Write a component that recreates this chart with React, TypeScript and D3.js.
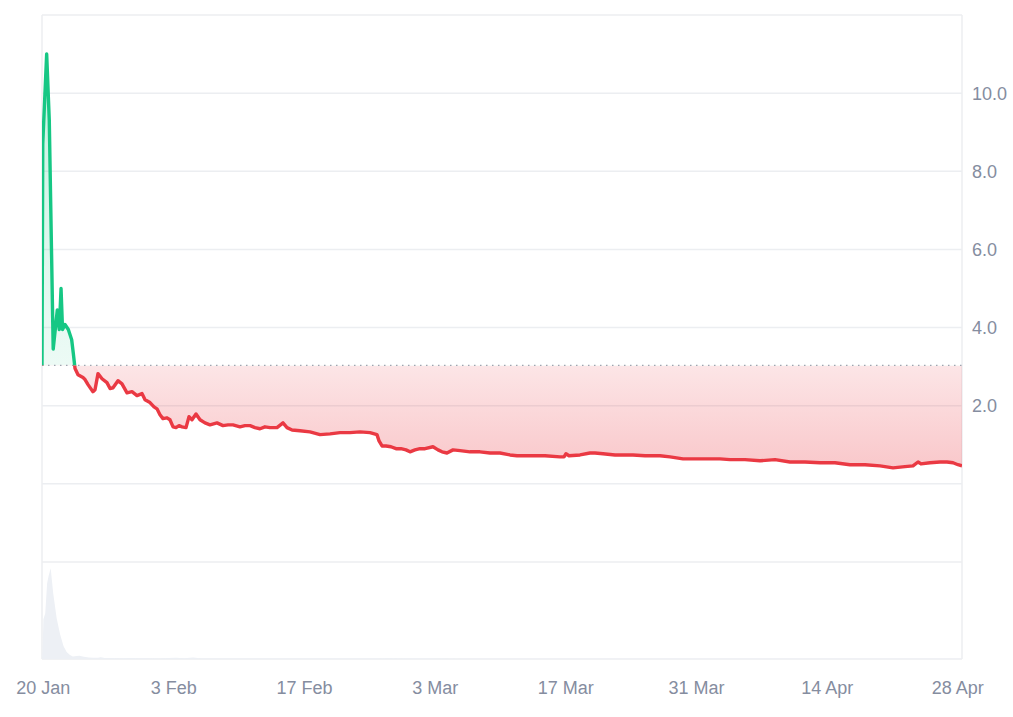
import React from "react";
import * as d3 from "d3";

// time of the first point; day offsets below are counted from here
const originUtc = Date.UTC(2025, 0, 19, 21, 0);
const DAY = 86400000;

const priceDay = [
  0, 0.08, 0.5, 0.78, 1.2, 1.64, 1.85, 2.04, 2.2, 2.46,
  2.82, 3.18, 3.35, 3.54, 3.86, 4.39, 4.61, 4.93, 5.46, 5.68,
  6.0, 6.43, 6.96, 7.29, 7.61, 8.14, 8.57, 9.11, 9.64, 10.18,
  10.71, 11.04, 11.57, 12.0, 12.32, 12.64, 12.96, 13.39, 13.71, 14.04,
  14.36, 14.68, 15.0, 15.43, 15.75, 16.07, 16.5, 16.93, 17.46, 18.0,
  18.75, 19.39, 19.93, 20.46, 21.21, 21.75, 22.29, 22.82, 23.36, 23.89,
  24.43, 25.18, 25.82, 26.25, 26.79, 27.64, 28.71, 29.79, 30.86, 31.93,
  33.0, 34.07, 35.14, 35.89, 36.11, 36.43, 36.86, 37.39, 37.93, 38.46,
  39.0, 39.43, 39.96, 40.5, 41.04, 41.89, 42.43, 42.86, 43.39, 44.04,
  44.79, 45.86, 46.93, 48.0, 49.07, 50.14, 50.89, 52.29, 53.89, 55.5,
  55.93, 56.14, 56.46, 57.64, 58.71, 59.25, 60.11, 61.39, 63.32, 64.61,
  66.21, 67.29, 68.68, 70.5, 72.64, 73.71, 75.32, 76.93, 78.54, 80.14,
  81.75, 83.36, 84.96, 86.57, 88.18, 89.79, 91.18, 92.46, 93.32, 93.86,
  94.18, 95.14, 96.21, 96.96, 97.61, 98.14, 98.57,
];
const priceValue = [
  3.03, 8.7, 11.0, 9.3, 3.45, 4.45, 3.95, 5.0, 3.95, 4.08,
  3.95, 3.69, 3.35, 2.95, 2.79, 2.72, 2.67, 2.54, 2.36, 2.41,
  2.82, 2.69, 2.59, 2.44, 2.46, 2.64, 2.56, 2.33, 2.36, 2.26,
  2.31, 2.15, 2.08, 1.97, 1.92, 1.77, 1.67, 1.69, 1.64, 1.46,
  1.44, 1.49, 1.46, 1.44, 1.72, 1.64, 1.79, 1.64, 1.56, 1.51,
  1.56, 1.49, 1.51, 1.51, 1.46, 1.49, 1.49, 1.44, 1.41, 1.46,
  1.44, 1.44, 1.56, 1.44, 1.38, 1.36, 1.33, 1.26, 1.28, 1.31,
  1.31, 1.33, 1.31, 1.26, 1.1, 0.97, 0.97, 0.95, 0.9, 0.9,
  0.87, 0.82, 0.87, 0.9, 0.9, 0.95, 0.87, 0.82, 0.79, 0.87,
  0.85, 0.82, 0.82, 0.79, 0.79, 0.74, 0.72, 0.72, 0.72, 0.69,
  0.69, 0.77, 0.72, 0.74, 0.79, 0.79, 0.77, 0.74, 0.74, 0.72,
  0.72, 0.69, 0.64, 0.64, 0.64, 0.62, 0.62, 0.59, 0.62, 0.56,
  0.56, 0.54, 0.54, 0.49, 0.49, 0.46, 0.41, 0.44, 0.46, 0.56,
  0.51, 0.54, 0.56, 0.56, 0.54, 0.49, 0.46,
];

// volume in $M
const volumeDay = [
  0, 0.08, 0.15, 0.35, 0.55, 0.7, 0.93, 1.2, 1.57, 1.93,
  2.3, 2.64, 3.0, 3.3, 3.7, 4.0, 4.5, 5.0, 5.5, 6.0,
  6.3, 6.7, 7.5, 8.5, 9.5, 10.5, 11.5, 12.5, 13.5, 14.4,
  15.2, 16.2, 17.2, 18.5, 20, 22, 24, 26, 28, 30,
  33, 36, 37, 39, 42, 45, 48, 52, 56, 60,
  64, 68, 72, 76, 80, 84, 88, 92, 94, 96,
  98.57,
];
const volumeValue = [
  0, 280, 800, 920, 1520, 1660, 1820, 1320, 820, 500,
  260, 140, 80, 50, 60, 64, 44, 30, 24, 26,
  34, 20, 18, 16, 18, 14, 16, 12, 18, 24,
  14, 30, 12, 11, 10, 9, 10, 9, 8, 8,
  8, 9, 14, 9, 8, 7, 7, 6, 7, 6,
  6, 5, 5, 5, 5, 5, 4, 4, 6, 5,
  4,
];

const xTickLabels = ["2025-01-20", "2025-02-03", "2025-02-17", "2025-03-03", "2025-03-17", "2025-03-31", "2025-04-14", "2025-04-28"];
const yTickValues = [10, 8, 6, 4, 2];
const gridValues = [12, 10, 8, 6, 4, 2, 0, -2];

const W = 1013;
const H = 717;
const left = 42;
const right = 962;
const priceTop = 15;
const priceBottom = 562;
const volBottom = 659;

const GREEN = "#16c784";
const RED = "#ea3943";
const GRID = "#eceef1";
const LABEL = "#858d9f";

type Pt = { t: Date; v: number };

export default function App() {
  const price: Pt[] = priceDay.map((d, i) => ({ t: new Date(originUtc + d * DAY), v: priceValue[i] }));
  const volume: Pt[] = volumeDay.map((d, i) => ({ t: new Date(originUtc + d * DAY), v: volumeValue[i] }));

  const x = d3.scaleUtc()
    .domain([new Date(originUtc), new Date(originUtc + priceDay[priceDay.length - 1] * DAY)])
    .range([left, right]);
  const y = d3.scaleLinear().domain([-2, 12]).range([priceBottom, priceTop]);
  const yVol = d3.scaleLinear()
    .domain([0, (d3.max(volumeValue) as number) * 1.07])
    .range([volBottom, priceBottom]);

  const baseValue = price[0].v;
  const baseY = y(baseValue);
  const minY = y(d3.min(priceValue) as number);
  const maxY = y(d3.max(priceValue) as number);

  const line = d3.line<Pt>().x(d => x(d.t)).y(d => y(d.v));
  const area = d3.area<Pt>().x(d => x(d.t)).y0(baseY).y1(d => y(d.v));
  const volArea = d3.area<Pt>().x(d => x(d.t)).y0(volBottom).y1(d => yVol(d.v));
  const fmt = d3.format(".1f");
  const dateFmt = d3.utcFormat("%-d %b");

  return (
    <svg width={W} height={H} style={{ position: "absolute", left: 0, top: 0, background: "#fff" }}
      fontFamily="'Liberation Sans', Arial, sans-serif">
      <defs>
        <clipPath id="above">
          <rect x={left} y={0} width={right - left} height={baseY} />
        </clipPath>
        <clipPath id="below">
          <rect x={left} y={baseY} width={right - left} height={priceBottom - baseY} />
        </clipPath>
        <linearGradient id="redFill" gradientUnits="userSpaceOnUse" x1={0} y1={baseY} x2={0} y2={minY}>
          <stop offset="0" stopColor={RED} stopOpacity={0.13} />
          <stop offset="1" stopColor={RED} stopOpacity={0.28} />
        </linearGradient>
        <linearGradient id="greenFill" gradientUnits="userSpaceOnUse" x1={0} y1={baseY} x2={0} y2={maxY}>
          <stop offset="0" stopColor={GREEN} stopOpacity={0.08} />
          <stop offset="1" stopColor={GREEN} stopOpacity={0.25} />
        </linearGradient>
      </defs>

      {/* grid */}
      {gridValues.map(v => (
        <line key={v} x1={left} x2={right} y1={y(v)} y2={y(v)} stroke={GRID} strokeWidth={1.5} />
      ))}
      <line x1={left} x2={right} y1={volBottom} y2={volBottom} stroke={GRID} strokeWidth={1.5} />
      <line x1={left} x2={left} y1={priceTop} y2={volBottom} stroke={GRID} strokeWidth={1.5} />
      <line x1={right} x2={right} y1={priceTop} y2={volBottom} stroke={GRID} strokeWidth={1.5} />

      {/* volume */}
      <path d={volArea(volume) ?? ""} fill="#edf0f5" />

      {/* price areas */}
      <path d={area(price) ?? ""} fill="url(#greenFill)" clipPath="url(#above)" />
      <path d={area(price) ?? ""} fill="url(#redFill)" clipPath="url(#below)" />

      <line x1={left} x2={right} y1={baseY} y2={baseY} stroke="#9ea4b0" strokeWidth={1.3} strokeDasharray="1.5 4.5" />

      <path d={line(price) ?? ""} fill="none" stroke={GREEN} strokeWidth={3.4} strokeLinejoin="round" clipPath="url(#above)" />
      <path d={line(price) ?? ""} fill="none" stroke={RED} strokeWidth={3.4} strokeLinejoin="round" clipPath="url(#below)" />

      {/* y labels */}
      {yTickValues.map(v => (
        <text key={v} x={972} y={y(v)} dy="0.36em" fontSize={18} fill={LABEL}>{fmt(v)}</text>
      ))}

      {/* x labels */}
      {xTickLabels.map(s => {
        const d = new Date(s + "T00:00:00Z");
        return (
          <text key={s} x={x(d)} y={694} textAnchor="middle" fontSize={18} fill={LABEL}>{dateFmt(d)}</text>
        );
      })}
    </svg>
  );
}
